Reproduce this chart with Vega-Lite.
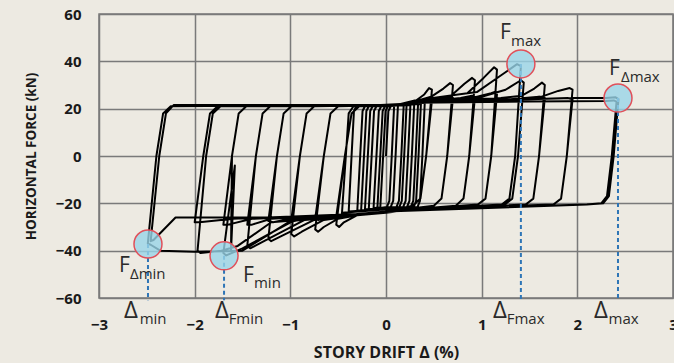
{
"$schema":"https://vega.github.io/schema/vega-lite/v6.json",
"width":574,"height":284,
"autosize":{"type":"none"},
"padding":{"left":99,"top":14,"right":1,"bottom":65},
"background":"#EDEAE2",
"config":{"view":{"stroke":"#7a7a7a","strokeWidth":1.5},"font":"Open Sans"},
"datasets":{
"loop":[
{"d":0,"f":0},{"d":0.025,"f":19},{"d":0.05,"f":21},{"d":0.085,"f":21.3},{"d":0.06,"f":0},{"d":0.035,"f":-19},{"d":0.01,"f":-21.5},
{"d":-0.06,"f":-22},{"d":-0.03,"f":0},{"d":-0.005,"f":19},{"d":0.02,"f":21},{"d":0.125,"f":21.5},{"d":0.10,"f":0},{"d":0.075,"f":-19},{"d":0.05,"f":-21.5},
{"d":-0.09,"f":-22},{"d":-0.06,"f":0},{"d":-0.035,"f":19},{"d":-0.01,"f":21},{"d":0.185,"f":21.5},{"d":0.16,"f":0},{"d":0.135,"f":-19},{"d":0.11,"f":-21.5},
{"d":-0.13,"f":-22},{"d":-0.10,"f":0},{"d":-0.075,"f":19},{"d":-0.05,"f":21},{"d":0.215,"f":21.5},{"d":0.19,"f":0},{"d":0.165,"f":-19},{"d":0.14,"f":-21.5},
{"d":-0.18,"f":-22.5},{"d":-0.15,"f":0},{"d":-0.125,"f":19},{"d":-0.10,"f":21},{"d":0.255,"f":21.5},{"d":0.23,"f":0},{"d":0.205,"f":-19},{"d":0.18,"f":-21.5},
{"d":-0.22,"f":-22.5},{"d":-0.19,"f":0},{"d":-0.165,"f":19},{"d":-0.14,"f":21},{"d":0.295,"f":22},{"d":0.27,"f":0},{"d":0.245,"f":-19},{"d":0.22,"f":-21.5},
{"d":-0.26,"f":-23},{"d":-0.23,"f":0},{"d":-0.205,"f":19},{"d":-0.18,"f":21},{"d":0.335,"f":22},{"d":0.31,"f":0},{"d":0.285,"f":-19},{"d":0.26,"f":-21.5},
{"d":-0.30,"f":-23},{"d":-0.27,"f":0},{"d":-0.245,"f":19},{"d":-0.22,"f":21},{"d":0.365,"f":22},{"d":0.34,"f":0},{"d":0.315,"f":-19},{"d":0.29,"f":-21.5},
{"d":-0.39,"f":-23.5},{"d":-0.36,"f":0},{"d":-0.335,"f":19},{"d":-0.31,"f":21},{"d":0.405,"f":22.5},{"d":0.38,"f":0},{"d":0.355,"f":-19},{"d":0.33,"f":-21.5},
{"d":-0.46,"f":-24},{"d":-0.42,"f":0},{"d":-0.39,"f":18},{"d":-0.34,"f":21},{"d":0.1,"f":21.5},{"d":0.3,"f":23},{"d":0.4,"f":26},{"d":0.45,"f":28.7},{"d":0.48,"f":28},{"d":0.42,"f":0},{"d":0.36,"f":-18},{"d":0.28,"f":-21},{"d":0,"f":-23.5},{"d":-0.3,"f":-25},{"d":-0.44,"f":-28},{"d":-0.49,"f":-30},{"d":-0.52,"f":-29},
{"d":-0.43,"f":0},{"d":-0.36,"f":18},{"d":-0.28,"f":21},{"d":0.1,"f":21.5},{"d":0.3,"f":22.5},{"d":0.45,"f":24},{"d":0.48,"f":23.5},{"d":0.42,"f":0},{"d":0.36,"f":-18},{"d":0.28,"f":-21},{"d":0,"f":-23.5},{"d":-0.3,"f":-24.5},{"d":-0.49,"f":-26},{"d":-0.52,"f":-25.5},
{"d":-0.43,"f":0},{"d":-0.36,"f":18},{"d":-0.28,"f":21},{"d":0.1,"f":21.5},{"d":0.3,"f":23},{"d":0.47,"f":25},{"d":0.6,"f":28.5},{"d":0.67,"f":30.8},{"d":0.70,"f":30},{"d":0.64,"f":0},{"d":0.58,"f":-18},{"d":0.5,"f":-21},{"d":0.3,"f":-22.5},{"d":0,"f":-23.5},{"d":-0.3,"f":-25},{"d":-0.5,"f":-26.5},{"d":-0.65,"f":-30},{"d":-0.71,"f":-32},{"d":-0.74,"f":-31},
{"d":-0.65,"f":0},{"d":-0.58,"f":18},{"d":-0.5,"f":21},{"d":0.1,"f":21.5},{"d":0.3,"f":22.5},{"d":0.55,"f":24},{"d":0.67,"f":25},{"d":0.70,"f":24.5},{"d":0.64,"f":0},{"d":0.58,"f":-18},{"d":0.5,"f":-21},{"d":0,"f":-23.5},{"d":-0.3,"f":-24.5},{"d":-0.6,"f":-26},{"d":-0.71,"f":-27},{"d":-0.74,"f":-26.5},
{"d":-0.65,"f":0},{"d":-0.58,"f":18},{"d":-0.5,"f":21},{"d":0.1,"f":21.5},{"d":0.3,"f":23},{"d":0.68,"f":25.5},{"d":0.82,"f":30.5},{"d":0.90,"f":33},{"d":0.93,"f":32},{"d":0.87,"f":0},{"d":0.81,"f":-18},{"d":0.73,"f":-21},{"d":0.3,"f":-22.5},{"d":0,"f":-23.5},{"d":-0.3,"f":-25},{"d":-0.65,"f":-27},{"d":-0.88,"f":-32},{"d":-0.96,"f":-34},{"d":-0.99,"f":-33},
{"d":-0.90,"f":0},{"d":-0.83,"f":18},{"d":-0.75,"f":21},{"d":0.1,"f":21.5},{"d":0.3,"f":22.5},{"d":0.78,"f":24.5},{"d":0.90,"f":25.5},{"d":0.93,"f":25},{"d":0.87,"f":0},{"d":0.81,"f":-18},{"d":0.73,"f":-21},{"d":0,"f":-23.5},{"d":-0.3,"f":-24.5},{"d":-0.85,"f":-26.5},{"d":-0.96,"f":-27.5},{"d":-0.99,"f":-27},
{"d":-0.90,"f":0},{"d":-0.83,"f":18},{"d":-0.75,"f":21},{"d":0.1,"f":21.5},{"d":0.3,"f":23.5},{"d":0.85,"f":26.5},{"d":1.02,"f":33},{"d":1.13,"f":37.5},{"d":1.16,"f":36.5},{"d":1.10,"f":0},{"d":1.04,"f":-18},{"d":0.96,"f":-20.5},{"d":0.3,"f":-22.5},{"d":0,"f":-23.5},{"d":-0.3,"f":-25},{"d":-0.75,"f":-27},{"d":-1.1,"f":-34},{"d":-1.2,"f":-36},{"d":-1.23,"f":-35},
{"d":-1.14,"f":0},{"d":-1.07,"f":18},{"d":-0.99,"f":21},{"d":0.1,"f":21.5},{"d":0.3,"f":22.5},{"d":0.9,"f":24.5},{"d":1.1,"f":26.5},{"d":1.13,"f":27},{"d":1.16,"f":26},{"d":1.10,"f":0},{"d":1.04,"f":-18},{"d":0.96,"f":-20.5},{"d":0,"f":-23.5},{"d":-0.3,"f":-24.5},{"d":-1.0,"f":-26.5},{"d":-1.18,"f":-28},{"d":-1.23,"f":-27.5},
{"d":-1.14,"f":0},{"d":-1.07,"f":18},{"d":-0.99,"f":21},{"d":0.1,"f":21.5},{"d":0.3,"f":23.5},{"d":0.95,"f":27},{"d":1.2,"f":34},{"d":1.37,"f":38.8},{"d":1.41,"f":38},{"d":1.35,"f":0},{"d":1.29,"f":-18},{"d":1.21,"f":-20.5},{"d":0.3,"f":-22.5},{"d":0,"f":-23.5},{"d":-0.3,"f":-25},{"d":-0.85,"f":-27},{"d":-1.3,"f":-36.5},{"d":-1.42,"f":-39},{"d":-1.45,"f":-38},
{"d":-1.36,"f":0},{"d":-1.29,"f":18},{"d":-1.21,"f":21},{"d":0.1,"f":21.5},{"d":0.3,"f":23},{"d":1.0,"f":25},{"d":1.25,"f":28},{"d":1.41,"f":32},{"d":1.44,"f":31},{"d":1.38,"f":0},{"d":1.32,"f":-18},{"d":1.24,"f":-20.5},{"d":0,"f":-23.5},{"d":-0.3,"f":-24.5},{"d":-1.2,"f":-26.5},{"d":-1.4,"f":-29},{"d":-1.45,"f":-29},
{"d":-1.36,"f":0},{"d":-1.29,"f":18},{"d":-1.21,"f":21},{"d":0.1,"f":21.5},{"d":0.3,"f":23},{"d":1.2,"f":24.5},{"d":1.42,"f":25.5},{"d":1.55,"f":28.5},{"d":1.63,"f":31},{"d":1.66,"f":30},{"d":1.60,"f":0},{"d":1.54,"f":-18},{"d":1.46,"f":-20.5},{"d":0.3,"f":-22.5},{"d":0,"f":-24},{"d":-0.3,"f":-25},{"d":-0.95,"f":-27},{"d":-1.5,"f":-39},{"d":-1.67,"f":-42},{"d":-1.70,"f":-41},
{"d":-1.58,"f":-4},{"d":-1.62,"f":-40},
{"d":-1.61,"f":0},{"d":-1.54,"f":18},{"d":-1.46,"f":21},{"d":0.1,"f":21.5},{"d":0.3,"f":22.8},{"d":1.3,"f":24},{"d":1.6,"f":25},{"d":1.66,"f":24.5},{"d":1.60,"f":0},{"d":1.54,"f":-18},{"d":1.46,"f":-20.5},{"d":0,"f":-23.5},{"d":-0.3,"f":-24.5},{"d":-1.4,"f":-26.5},{"d":-1.65,"f":-29},{"d":-1.70,"f":-29},
{"d":-1.61,"f":0},{"d":-1.54,"f":18},{"d":-1.46,"f":21},{"d":0.1,"f":21.5},{"d":0.3,"f":23},{"d":1.3,"f":24},{"d":1.62,"f":25},{"d":1.8,"f":27.5},{"d":1.92,"f":28.7},{"d":1.95,"f":28},{"d":1.89,"f":0},{"d":1.83,"f":-18},{"d":1.75,"f":-20.5},{"d":0.3,"f":-22.5},{"d":0,"f":-24},{"d":-0.3,"f":-25},{"d":-1.2,"f":-28},{"d":-1.55,"f":-38},{"d":-1.72,"f":-40},{"d":-1.94,"f":-41},{"d":-1.97,"f":-40},
{"d":-1.88,"f":0},{"d":-1.81,"f":18},{"d":-1.73,"f":21},{"d":0.1,"f":21.5},{"d":0.3,"f":22.8},{"d":1.5,"f":24},{"d":1.9,"f":24.5},{"d":1.95,"f":24},{"d":1.89,"f":0},{"d":1.83,"f":-18},{"d":1.75,"f":-20.5},{"d":0,"f":-23.5},{"d":-0.3,"f":-24.5},{"d":-1.6,"f":-26.5},{"d":-1.95,"f":-28},{"d":-2.0,"f":-28},
{"d":-1.91,"f":0},{"d":-1.84,"f":18},{"d":-1.76,"f":21},{"d":0.1,"f":21.5},{"d":0.3,"f":23},{"d":1.5,"f":24},{"d":1.95,"f":24.5},{"d":2.3,"f":24.5},{"d":2.4,"f":24.8},{"d":2.43,"f":24},{"d":2.38,"f":0},{"d":2.33,"f":-17},{"d":2.27,"f":-20},{"d":2.1,"f":-20.5},{"d":0.3,"f":-22.5},{"d":0,"f":-24},{"d":-0.3,"f":-25},{"d":-1.0,"f":-27.5},{"d":-1.5,"f":-40},{"d":-2.0,"f":-40.5},{"d":-2.36,"f":-40},{"d":-2.46,"f":-37.5},{"d":-2.49,"f":-37},
{"d":-2.40,"f":0},{"d":-2.33,"f":18},{"d":-2.25,"f":21},{"d":-1.5,"f":21.2},{"d":0.1,"f":21.5},{"d":0.3,"f":22.5},{"d":1.5,"f":23},{"d":2.3,"f":23.2},{"d":2.38,"f":23.5},{"d":2.41,"f":23},{"d":2.36,"f":0},{"d":2.31,"f":-17},{"d":2.25,"f":-20},{"d":2.1,"f":-20.5},{"d":0,"f":-23.5},{"d":-0.3,"f":-24.5},{"d":-1.2,"f":-26},{"d":-2.2,"f":-26},{"d":-2.43,"f":-35.5},{"d":-2.46,"f":-36},
{"d":-2.37,"f":0},{"d":-2.30,"f":18},{"d":-2.22,"f":21.5},{"d":-1.0,"f":21.5},{"d":0,"f":21.5}
],
"points":[
{"d":1.41,"f":38.9},{"d":2.425,"f":24.5},{"d":-1.693,"f":-42.2},{"d":-2.488,"f":-37.2}
],
"labels":[
{"t":"F","d":1.191,"f":52.0},
{"t":"F","d":2.331,"f":36.8},
{"t":"F","d":-2.791,"f":-46.5},
{"t":"F","d":-1.495,"f":-50.7},
{"t":"Δ","d":-2.738,"f":-65.5},
{"t":"Δ","d":-1.787,"f":-65.5},
{"t":"Δ","d":1.119,"f":-65.5},
{"t":"Δ","d":2.175,"f":-65.5},
{"t":"max","d":1.307,"f":48.6},
{"t":"Δmax","d":2.456,"f":33.4},
{"t":"Δmin","d":-2.676,"f":-49.9},
{"t":"min","d":-1.380,"f":-53.7},
{"t":"min","d":-2.575,"f":-68.9},
{"t":"Fmin","d":-1.645,"f":-68.9},
{"t":"Fmax","d":1.262,"f":-68.9},
{"t":"max","d":2.327,"f":-68.9}
]
},
"layer":[
{"data":{"name":"loop"},
 "mark":{"type":"line","color":"#000000","strokeWidth":2,"strokeJoin":"round"},
 "encoding":{
  "x":{"field":"d","type":"quantitative","scale":{"domain":[-3,3],"nice":false,"zero":false},
   "axis":{"values":[-3,-2,-1,0,1,2,3],"format":"d","title":"STORY DRIFT Δ (%)","grid":true,"gridColor":"#7a7a7a","gridWidth":1.5,"domain":false,"ticks":false,"labelFont":"Open Sans","labelFontWeight":"bold","labelFontSize":15,"labelColor":"#1a1a1a","labelPadding":19,"labelFlush":false,"labelOverlap":false,"titleFont":"Open Sans","titleFontWeight":"bold","titleFontSize":16,"titleColor":"#1a1a1a","titleY":59,"titleBaseline":"alphabetic"}},
  "y":{"field":"f","type":"quantitative","scale":{"domain":[-60,60],"nice":false,"zero":false},
   "axis":{"values":[-60,-40,-20,0,20,40,60],"title":"HORIZONTAL FORCE (kN)","grid":true,"gridColor":"#7a7a7a","gridWidth":1.5,"domain":false,"ticks":false,"labelFont":"Open Sans","labelFontWeight":"bold","labelFontSize":15,"labelColor":"#1a1a1a","labelPadding":18,"labelOverlap":false,"titleFont":"Open Sans","titleFontWeight":"bold","titleFontSize":13.5,"titleColor":"#1a1a1a","titleX":-64,"titleY":142,"titleAngle":-90,"titleBaseline":"alphabetic","titleAlign":"center"}},
  "order":{"value":null}
 }},
{"data":{"name":"points"},
 "mark":{"type":"rule","color":"#2e75b6","strokeWidth":2,"strokeDash":[4,3]},
 "encoding":{"x":{"field":"d","type":"quantitative"},"y":{"field":"f","type":"quantitative"},"y2":{"datum":-61}}},
{"data":{"name":"points"},
 "mark":{"type":"point","shape":"circle","filled":false,"size":784,"fill":"#98d4e8","fillOpacity":0.8,"stroke":"#e0505a","strokeWidth":1.5,"opacity":1},
 "encoding":{"x":{"field":"d","type":"quantitative"},"y":{"field":"f","type":"quantitative"}}},
{"data":{"name":"labels"},
 "transform":[{"filter":"datum.t === 'F'"}],
 "mark":{"type":"text","align":"left","baseline":"middle","font":"Open Sans","fontSize":21,"color":"#2b2b2b"},
 "encoding":{"x":{"field":"d","type":"quantitative"},"y":{"field":"f","type":"quantitative"},"text":{"field":"t"}}},
{"data":{"name":"labels"},
 "transform":[{"filter":"datum.t === 'Δ'"}],
 "mark":{"type":"text","align":"left","baseline":"middle","font":"Open Sans","fontSize":24,"color":"#2b2b2b"},
 "encoding":{"x":{"field":"d","type":"quantitative"},"y":{"field":"f","type":"quantitative"},"text":{"field":"t"}}},
{"data":{"name":"labels"},
 "transform":[{"filter":"length(datum.t) > 1"}],
 "mark":{"type":"text","align":"left","baseline":"middle","font":"Open Sans","fontSize":15,"color":"#2b2b2b"},
 "encoding":{"x":{"field":"d","type":"quantitative"},"y":{"field":"f","type":"quantitative"},"text":{"field":"t"}}}
]
}
